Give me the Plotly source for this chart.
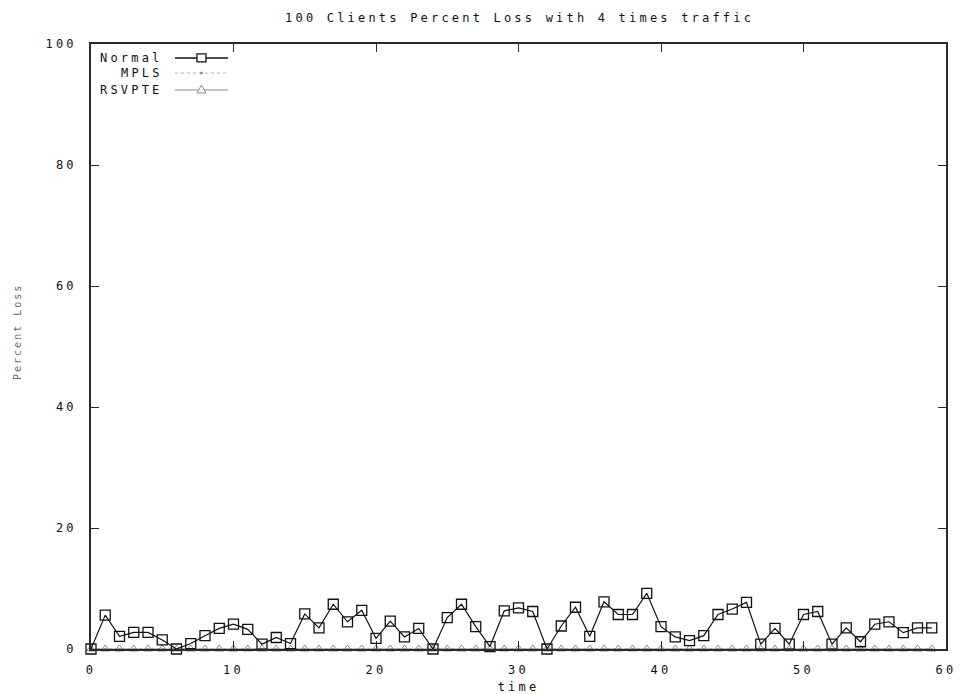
import plotly.graph_objects as go

# ---- data -------------------------------------------------------------
time = list(range(60))

normal = [0, 5.6, 2.1, 2.75, 2.75, 1.5, 0, 0.9, 2.2, 3.4, 4.1, 3.25, 0.8, 1.9, 0.9, 5.8, 3.5, 7.4, 4.5, 6.4,
          1.75, 4.6, 2.0, 3.4, 0, 5.2, 7.4, 3.7, 0.4, 6.3, 6.8, 6.2, 0, 3.8, 6.9, 2.1, 7.8, 5.7, 5.7, 9.2,
          3.7, 2.0, 1.4, 2.2, 5.7, 6.6, 7.7, 0.8, 3.4, 0.8, 5.7, 6.2, 0.8, 3.5, 1.2, 4.1, 4.5, 2.7, 3.5, 3.5]

mpls = [0, 0, 0, 0, 0, 0, 0, 0, 0, 0, 0, 0, 0, 0, 0, 0, 0, 0, 0, 0,
        0, 0, 0, 0, 0, 0, 0, 0, 0, 0, 0, 0, 0, 0, 0, 0, 0, 0, 0, 0,
        0, 0, 0, 0, 0, 0, 0, 0, 0, 0, 0, 0, 0, 0, 0, 0, 0, 0, 0, 0]

rsvpte = [0, 0, 0, 0, 0, 0, 0, 0, 0, 0, 0, 0, 0, 0, 0, 0, 0, 0, 0, 0,
          0, 0, 0, 0, 0, 0, 0, 0, 0, 0, 0, 0, 0, 0, 0, 0, 0, 0, 0, 0,
          0, 0, 0, 0, 0, 0, 0, 0, 0, 0, 0, 0, 0, 0, 0, 0, 0, 0, 0, 0]

series_names = ["Normal", "MPLS", "RSVPTE"]
x_ticks = [0, 10, 20, 30, 40, 50, 60]
y_ticks = [0, 20, 40, 60, 80, 100]

title_text = "100 Clients Percent Loss with 4 times traffic"
x_title = "time"
y_title = "Percent Loss"

# ---- styling ----------------------------------------------------------
MONO = "DejaVu Sans Mono"
INK = "#111111"
GRAY = "#8a8a8a"
FS = 12
SP = 3.2


def spaced(s, px=SP):
    """Wide, terminal-style lettering."""
    return f"<span style='letter-spacing:{px}px'>{s}</span>"


fig = go.Figure()

fig.add_trace(go.Scatter(
    x=time, y=rsvpte, name=series_names[2], mode="lines+markers",
    line=dict(color=GRAY, width=1),
    marker=dict(symbol="triangle-up-open", size=8, color=GRAY, line=dict(width=1, color=GRAY)),
    cliponaxis=False, showlegend=False,
))
fig.add_trace(go.Scatter(
    x=time, y=mpls, name=series_names[1], mode="lines+markers",
    line=dict(color=GRAY, width=1, dash="dot"),
    marker=dict(symbol="circle", size=2, color=GRAY),
    cliponaxis=False, showlegend=False,
))
fig.add_trace(go.Scatter(
    x=time, y=normal, name=series_names[0], mode="lines+markers",
    line=dict(color=INK, width=1.2),
    marker=dict(symbol="square-open", size=10, color=INK, line=dict(width=1.3, color=INK)),
    cliponaxis=False, showlegend=False,
))

# ---- key, top-left inside the frame (text right-justified, sample to the right)
key_rows = [0.977, 0.952, 0.924]
key_text_x = 0.086
key_x0, key_x1, key_mid = 0.0982, 0.1602, 0.1292
for name, yy in zip(series_names, key_rows):
    fig.add_annotation(
        x=key_text_x, y=yy, xref="paper", yref="paper", xanchor="right", yanchor="middle",
        text=spaced(name), showarrow=False, font=dict(family=MONO, size=FS, color=INK),
    )

# Normal: solid black with square
fig.add_shape(type="line", xref="paper", yref="paper", x0=key_x0, x1=key_x1, y0=key_rows[0], y1=key_rows[0],
              line=dict(color=INK, width=1.5))
fig.add_shape(type="rect", xref="paper", yref="paper", xsizemode="pixel", ysizemode="pixel",
              xanchor=key_mid, yanchor=key_rows[0], x0=-4.5, x1=4.5, y0=-4, y1=4,
              line=dict(color=INK, width=1.3), fillcolor="white")
# MPLS: dotted gray
fig.add_shape(type="line", xref="paper", yref="paper", x0=key_x0, x1=key_x1, y0=key_rows[1], y1=key_rows[1],
              line=dict(color="#b0b0b0", width=1, dash="dot"))
fig.add_shape(type="circle", xref="paper", yref="paper", xsizemode="pixel", ysizemode="pixel",
              xanchor=key_mid, yanchor=key_rows[1], x0=-1, x1=1, y0=-1, y1=1,
              line=dict(color=GRAY, width=1), fillcolor=GRAY)
# RSVPTE: gray with triangle
fig.add_shape(type="line", xref="paper", yref="paper", x0=key_x0, x1=key_x1, y0=key_rows[2], y1=key_rows[2],
              line=dict(color=GRAY, width=1))
fig.add_shape(type="path", xref="paper", yref="paper", xsizemode="pixel", ysizemode="pixel",
              xanchor=key_mid, yanchor=key_rows[2], path="M -4.5 -3 L 4.5 -3 L 0 5 Z",
              line=dict(color=GRAY, width=1), fillcolor="white")

# y-axis caption, rotated, placed left of the tick labels
fig.add_annotation(
    x=-0.0854, y=0.524, xref="paper", yref="paper", xanchor="center", yanchor="middle",
    text=spaced(y_title, 2), textangle=-90, showarrow=False,
    font=dict(family=MONO, size=10, color="#6a6a6a"),
)

axis_common = dict(
    showgrid=False, zeroline=False, automargin=False,
    showline=True, linecolor="#2a2a2a", linewidth=1.6, mirror="ticks",
    ticks="inside", ticklen=8, tickwidth=1, tickcolor="#2a2a2a",
    tickfont=dict(family=MONO, size=FS, color=INK),
)

fig.update_xaxes(
    range=[0, 60], tickvals=x_ticks, ticktext=[spaced(str(v)) for v in x_ticks],
    ticklabelstandoff=9,
    title=dict(text=spaced(x_title), font=dict(family=MONO, size=FS, color=INK), standoff=8),
    **axis_common,
)
fig.update_yaxes(
    range=[0, 100], tickvals=y_ticks, ticktext=[spaced(str(v)) for v in y_ticks],
    ticklabelstandoff=10,
    **axis_common,
)

fig.update_layout(
    width=964, height=694,
    margin=dict(l=91, r=18, t=44, b=45, autoexpand=False),
    paper_bgcolor="white", plot_bgcolor="white",
    title=dict(text=spaced(title_text), x=0.539, xanchor="center", y=0.974, yanchor="middle",
               font=dict(family=MONO, size=FS, color=INK)),
)

fig.write_html("out.html")
